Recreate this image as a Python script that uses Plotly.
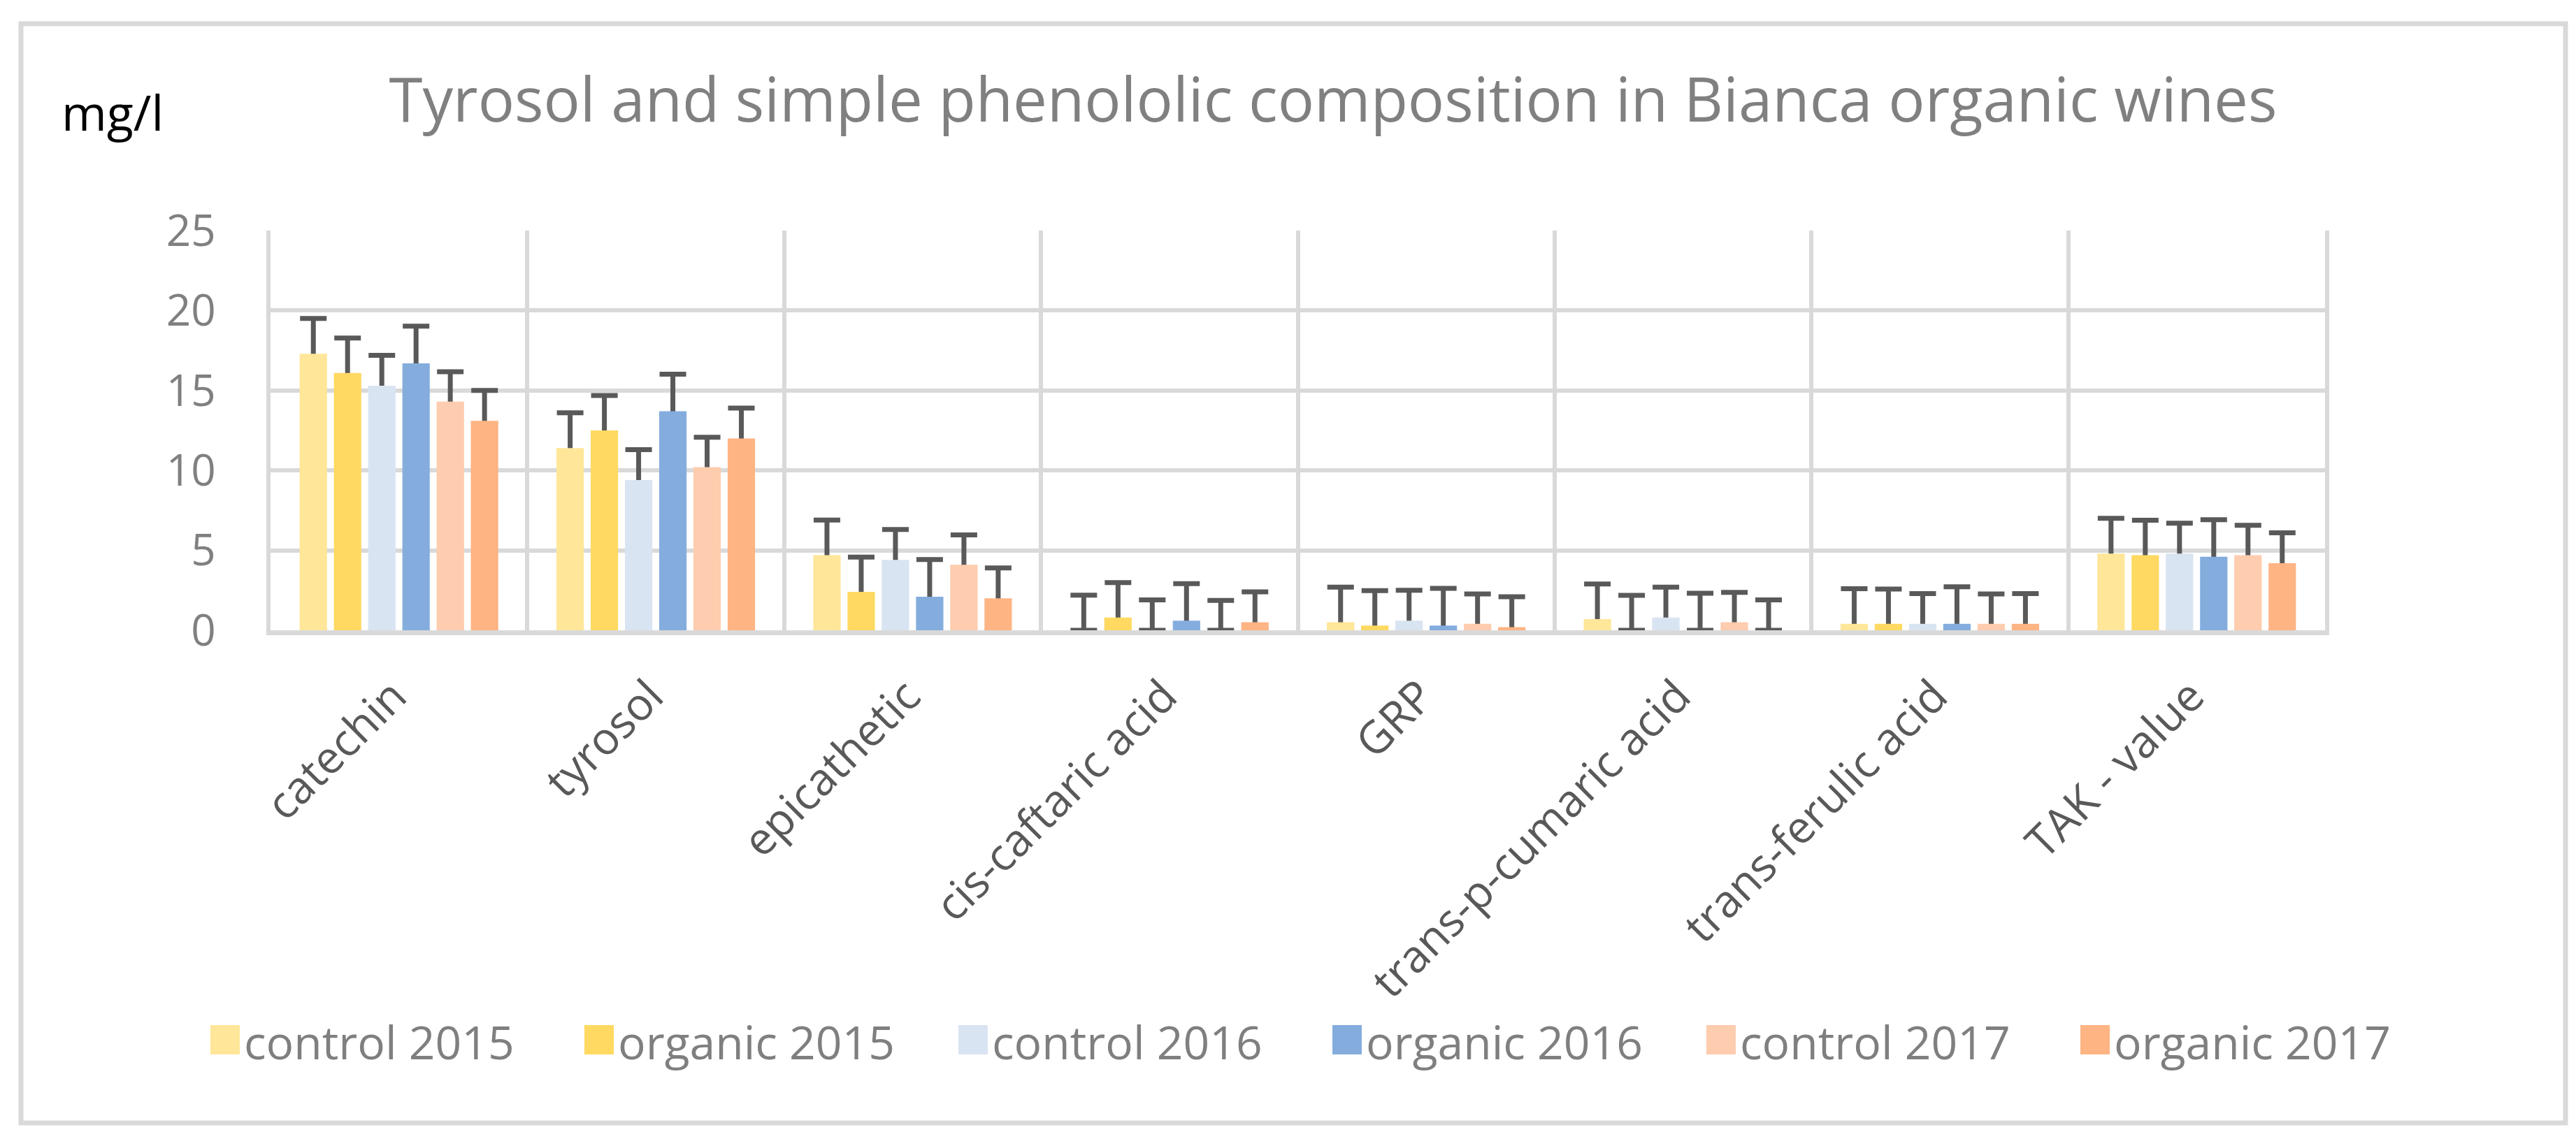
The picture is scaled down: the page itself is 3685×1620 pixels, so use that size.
import plotly.graph_objects as go

# ── data ──────────────────────────────────────────────────────────────────────
categories = [
    "catechin", "tyrosol", "epicathetic", "cis-caftaric acid", "GRP",
    "trans-p-cumaric acid", "trans-ferulic acid", "TAK - value",
]
series_names = [
    "control 2015", "organic 2015", "control 2016",
    "organic 2016", "control 2017", "organic 2017",
]
control_2015 = [17.3, 11.4, 4.7, 0.0, 0.5, 0.7, 0.4, 4.8]
organic_2015 = [16.1, 12.5, 2.4, 0.8, 0.3, 0.0, 0.4, 4.7]
control_2016 = [15.3, 9.4, 4.4, 0.0, 0.6, 0.8, 0.4, 4.8]
organic_2016 = [16.7, 13.7, 2.1, 0.6, 0.3, 0.0, 0.4, 4.6]
control_2017 = [14.3, 10.2, 4.1, 0.0, 0.4, 0.5, 0.4, 4.7]
organic_2017 = [13.1, 12.0, 2.0, 0.5, 0.2, 0.0, 0.4, 4.2]
# fixed (plus-only) error value for each series
series_err = [2.2, 2.18, 1.9, 2.32, 1.87, 1.9]
y_ticks = [0, 5, 10, 15, 20, 25]

series_values = [control_2015, organic_2015, control_2016,
                 organic_2016, control_2017, organic_2017]
COLORS = ["#FFE699", "#FFD961", "#D9E4F3", "#84ADDE", "#FECCAE", "#FEB483"]

FONT = "Open Sans"
W, H = 3685, 1620
ML, MR, MT, MB = 379, 367, 322, 726
PW, PH = W - ML - MR, H - MT - MB


def px_x(px):
    return (px - ML) / PW


def px_y(py):
    return 1 - (py - MT) / PH


fig = go.Figure()
for i, (name, vals, err, col) in enumerate(zip(series_names, series_values, series_err, COLORS)):
    # error bar layer: stem runs from 0 up to value+err, the part inside the
    # bar is hidden by the opaque bar drawn next (plus-only look, as in Excel)
    fig.add_trace(go.Bar(
        x=categories, y=vals, offsetgroup=str(i),
        marker=dict(color="rgba(0,0,0,0)", line=dict(width=0)),
        error_y=dict(type="data", symmetric=False,
                     array=[err] * len(vals), arrayminus=vals,
                     color="#595959", thickness=7, width=19),
        showlegend=False, hoverinfo="skip",
    ))
    fig.add_trace(go.Bar(
        x=categories, y=vals, name=name, offsetgroup=str(i),
        marker=dict(color=col, line=dict(width=0)),
        showlegend=False,
    ))

# ── manual legend (Excel-style large swatches) ────────────────────────────────
LEG_X0, LEG_STEP, LEG_Y = 293, 535, 1480
shapes = []
annotations = []
for i, (name, col) in enumerate(zip(series_names, COLORS)):
    x0 = LEG_X0 + i * LEG_STEP
    shapes.append(dict(type="rect", xref="paper", yref="paper",
                       x0=px_x(x0), x1=px_x(x0 + 42),
                       y0=px_y(LEG_Y - 21), y1=px_y(LEG_Y + 21),
                       fillcolor=col, line=dict(width=0)))
    annotations.append(dict(text=name, xref="paper", yref="paper",
                            x=px_x(x0 + 46), y=px_y(LEG_Y + 2),
                            xanchor="left", yanchor="middle", showarrow=False,
                            font=dict(family=FONT, size=66, color="#7F7F7F")))

# outer chart frame
shapes.append(dict(type="rect", xref="paper", yref="paper", layer="below",
                   x0=px_x(22), x1=px_x(3662), y0=px_y(26), y1=px_y(1599),
                   line=dict(color="#D9D9D9", width=7)))

annotations.append(dict(text="mg/l", xref="paper", yref="paper",
                        x=px_x(78), y=px_y(152), xanchor="left", yanchor="middle",
                        showarrow=False,
                        font=dict(family=FONT, size=70, color="#000000")))

fig.update_layout(
    width=W, height=H,
    margin=dict(l=ML, r=MR, t=MT, b=MB, autoexpand=False),
    paper_bgcolor="white", plot_bgcolor="white",
    barmode="group", bargap=0.2, bargroupgap=0.2,
    title=dict(text="Tyrosol and simple phenololic composition in Bianca organic wines",
               x=1899 / W, xanchor="center", y=1 - 136 / H, yanchor="middle",
               font=dict(family=FONT, size=87, color="#808080")),
    xaxis=dict(
        tickson="boundaries", showgrid=True, gridcolor="#D9D9D9", gridwidth=6,
        showline=True, linecolor="#D9D9D9", linewidth=7,
        ticks="", tickangle=-45, ticklabelstandoff=24, ticklabelshift=-8,
        tickfont=dict(family=FONT, size=64, color="#595959"),
    ),
    yaxis=dict(
        range=[0, 25], tickvals=y_ticks, showgrid=True,
        gridcolor="#D9D9D9", gridwidth=6, zeroline=False,
        showline=True, mirror=True, linecolor="#D9D9D9", linewidth=6,
        ticks="", ticklabelstandoff=60,
        tickfont=dict(family=FONT, size=62, color="#808080"),
    ),
    shapes=shapes,
    annotations=annotations,
)

fig.write_html("out.html")
